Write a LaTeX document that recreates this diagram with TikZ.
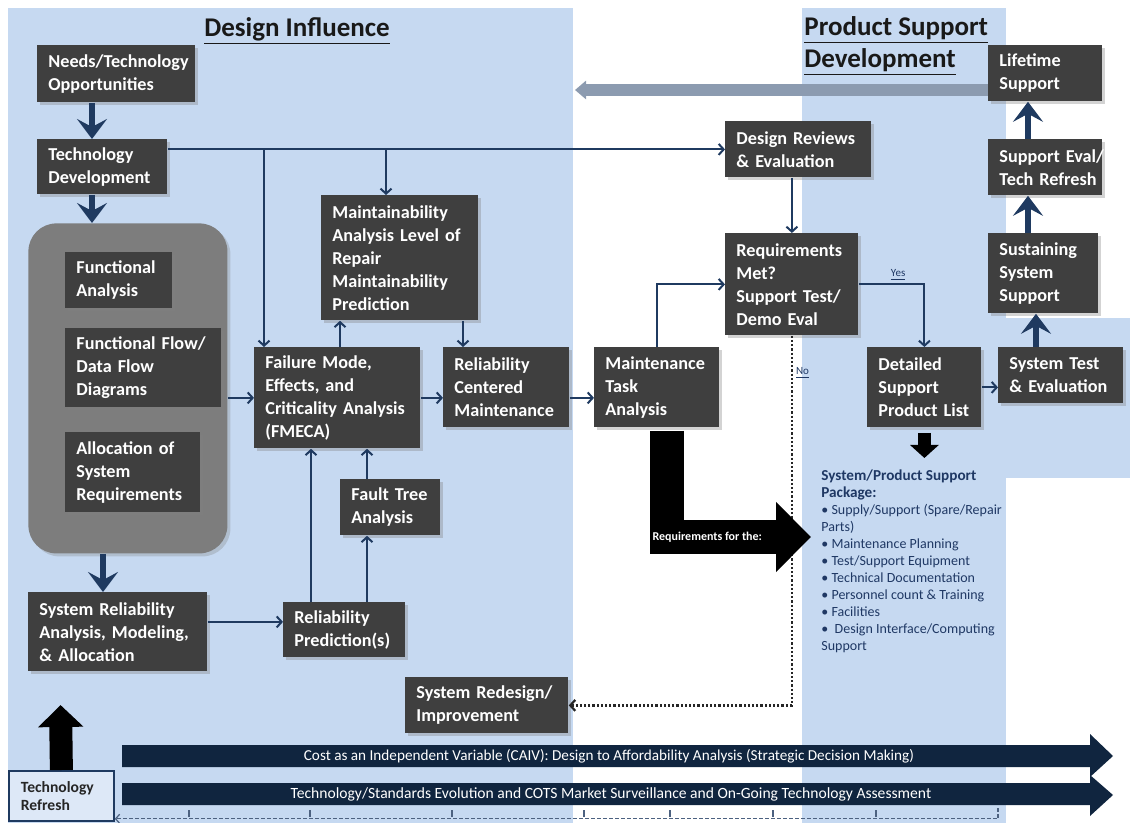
\documentclass[tikz,border=0pt]{standalone}
\usepackage{fontspec}
\setmainfont{Carlito}
\usetikzlibrary{arrows.meta,calc,shadows}

\definecolor{panelblue}{HTML}{C6D9F1}
\definecolor{boxgray}{HTML}{3F3F3F}
\definecolor{groupgray}{HTML}{7D7D7D}
\definecolor{linknavy}{HTML}{1F3A60}
\definecolor{barnavy}{HTML}{10253F}
\definecolor{backgray}{HTML}{8C9BB0}
\definecolor{pkgblue}{HTML}{1F3864}

\newcommand{\boxfont}{\bfseries\fontsize{9.1}{11.5}\selectfont}
\newcommand{\pkghead}[1]{\textbf{\fontsize{7.6}{9}\selectfont #1}}

\begin{document}
\begin{tikzpicture}[x=0.5pt,y=-0.5pt,
	blk/.style={fill=boxgray,text=white,font=\boxfont,align=left,anchor=north west,
		inner xsep=5.5pt,inner ysep=2pt,
		execute at begin node={\hyphenpenalty=10000\exhyphenpenalty=10000},
		drop shadow={shadow xshift=1.5pt,shadow yshift=-1.5pt,opacity=0.35}},
	link/.style={draw=linknavy,line width=1pt,-{Straight Barb[length=2.5pt,width=5.5pt]}},
	bigflow/.style={draw=linknavy,line width=3pt,-{Stealth[length=10pt,width=15pt,inset=4pt]}},
	noline/.style={draw=black!85,line width=1.1pt,densely dotted,-{Straight Barb[length=2.5pt,width=5.5pt]}},
	lbl/.style={text=pkgblue,font=\fontsize{5.5}{6}\selectfont,inner sep=1.5pt},
	barlabel/.style={text=white,font=\fontsize{7.6}{8}\selectfont},
	dashline/.style={draw=linknavy!80,line width=0.6pt,dash pattern=on 2pt off 1pt},
	title/.style={text=black!90,font=\bfseries\fontsize{13.5}{16}\selectfont}]

	% panels
	\useasboundingbox (0,0) rectangle (1130,823);
	\fill[panelblue] (8,8) rectangle (573,823);
	\fill[panelblue] (802,8) rectangle (1006,823);
	\fill[panelblue] (1006,318) rectangle (1130,478);

	\node[title] (ditl) at (297,31) {\underline{Design Influence}};
	\node[title,align=left,anchor=west,inner xsep=1pt] (pstl) at (802,46) {\underline{Product Support}\\\underline{Development}};

	% boxes
	\node[blk,text width=68pt,minimum height=28.5pt] (needs) at (37,45) {Needs/Technology\\Opportunities};
	\node[blk,text width=54pt,minimum height=27.5pt] (techdev) at (37,139) {Technology\\Development};
	\node[fill=groupgray,rounded corners=14pt,minimum width=99.5pt,minimum height=165pt,anchor=north west,
		drop shadow={shadow xshift=1.5pt,shadow yshift=-1.5pt,opacity=0.3}] (grp) at (28,223) {};
	\node[blk,text width=42.5pt,minimum height=28pt] (func) at (65,252) {Functional\\Analysis};
	\node[blk,text width=67pt,minimum height=39.5pt] (flow) at (65,328) {Functional~Flow/\\Data~Flow\\Diagrams};
	\node[blk,text width=56.5pt,minimum height=40pt] (alloc) at (65,432) {Allocation~of\\System\\Requirements};
	\node[blk,text width=78.5pt,minimum height=39.5pt] (sysrel) at (28,592) {System~Reliability\\Analysis,~Modeling,\\\&~Allocation};
	\node[blk,text width=50pt,minimum height=27.5pt] (relpred) at (283,602) {Reliability\\Prediction(s)};
	\node[blk,text width=72pt,minimum height=50.5pt] (fmeca) at (254,347) {Failure~Mode,\\Effects,~and\\Criticality~Analysis\\(FMECA)};
	\node[blk,text width=39pt,minimum height=28pt] (fta) at (340,479) {Fault~Tree\\Analysis};
	\node[blk,text width=67.5pt,minimum height=62.5pt] (maint) at (321,195) {Maintainability\\Analysis~Level~of\\Repair\\Maintainability\\Prediction};
	\node[blk,text width=52pt,minimum height=40pt] (rcm) at (443,347) {Reliability\\Centered\\Maintenance};
	\node[blk,text width=51.5pt,minimum height=40pt] (mta) at (594,347) {Maintenance\\Task\\Analysis};
	\node[blk,text width=70.5pt,minimum height=28pt] (redesign) at (405,677) {System~Redesign/\\Improvement};
	\node[blk,text width=62pt,minimum height=28pt] (reviews) at (725,121) {Design~Reviews\\\&~Evaluation};
	\node[blk,text width=55.5pt,minimum height=51pt] (reqmet) at (725,233) {Requirements\\Met?\\Support~Test/\\Demo~Eval};
	\node[blk,text width=46pt,minimum height=40pt] (detailed) at (867,347) {Detailed\\Support\\Product~List};
	\node[blk,text width=51.5pt,minimum height=28pt] (systest) at (998,347) {System~Test\\\&~Evaluation};
	\node[blk,text width=44pt,minimum height=40pt] (sustain) at (988,233) {Sustaining\\System\\Support};
	\node[blk,text width=46pt,minimum height=28pt] (supeval) at (988,139) {Support~Eval/\\Tech~Refresh};
	\node[blk,text width=46pt,minimum height=28pt] (lifetime) at (988,45) {Lifetime\\Support};

	\node[fill=panelblue!60!white,draw=linknavy,line width=0.9pt,text=black!85,
		font=\bfseries\fontsize{7.8}{9}\selectfont,align=left,anchor=north west,
		text width=40.5pt,inner xsep=6pt,minimum height=25pt] (refresh) at (8,770) {Technology\\Refresh};

	\node[anchor=north west,align=left,inner sep=1pt,text=pkgblue,font=\fontsize{7}{8.5}\selectfont] (pkg) at (819,467) {\pkghead{System/Product Support}\\\pkghead{Package:}\\\textbullet\ Supply/Support (Spare/Repair\\Parts)\\\textbullet\ Maintenance Planning\\\textbullet\ Test/Support Equipment\\\textbullet\ Technical Documentation\\\textbullet\ Personnel count \& Training\\\textbullet\ Facilities\\\textbullet\ \ Design Interface/Computing\\Support};

	% guide columns
	\coordinate (gx1) at (92,0);
	\coordinate (gx2) at (103,0);
	\coordinate (gx3) at (311,0);
	\coordinate (gx4) at (367,0);
	\coordinate (gx5) at (340,0);
	\coordinate (gx6) at (463,0);
	\coordinate (gx7) at (657,0);
	\coordinate (gx8) at (1036,0);
	\coordinate (gx9) at (1028,0);
	\coordinate (gx10) at (667,0);
	\coordinate (j1) at (264,149);
	\coordinate (j2) at (386,149);
	\coordinate (backtip) at (575,90);
	\coordinate (reqtip) at (811,537);
	\coordinate (uptip) at (60.5,705);
	\coordinate (dend) at (998,808);

	% lifetime feedback
	\draw[draw=backgray,line width=6pt,-{Triangle[length=5.5pt,width=9pt]}] (lifetime.west |- backtip) -- (backtip);

	% connectors
	\draw[bigflow] (needs.south -| gx1) -- (techdev.north -| gx1);
	\draw[bigflow] (techdev.south -| gx1) -- (grp.north -| gx1);
	\draw[bigflow] (grp.south -| gx2) -- (sysrel.north -| gx2);
	\draw[link] (techdev.east |- reviews.west) -- (reviews.west);
	\draw[link] (j1) -- (j1 |- fmeca.north);
	\draw[link] (j2) -- (j2 |- maint.north);
	\draw[link] (grp.east |- fmeca.west) -- (fmeca.west);
	\draw[link] (fmeca.east) -- (fmeca.east -| rcm.west);
	\draw[link] (rcm.east |- fmeca.east) -- (mta.west |- fmeca.east);
	\draw[link] (fmeca.north -| gx5) -- (maint.south -| gx5);
	\draw[link] (maint.south -| gx6) -- (rcm.north -| gx6);
	\draw[link] (relpred.north -| gx3) -- (fmeca.south -| gx3);
	\draw[link] (relpred.north -| gx4) -- (fta.south -| gx4);
	\draw[link] (fta.north -| gx4) -- (fmeca.south -| gx4);
	\draw[link] ($(sysrel.east)+(0,-10)$) -- ($(relpred.west)+(0,-8)$);
	\draw[link] (reviews.south -| reqmet.north) -- (reqmet.north);
	\draw[link] (mta.north -| gx7) |- (reqmet.west);
	\draw[link] (reqmet.east) -| node[pos=0.3,above,lbl] {\underline{Yes}} (detailed.north);
	\draw[noline] (reqmet.south) |- node[pos=0.05,right,lbl] {\underline{No}} (redesign.east);
	\draw[link] (detailed.east) -- (detailed.east -| systest.west);
	\draw[bigflow] (systest.north -| gx8) -- (sustain.south -| gx8);
	\draw[bigflow] (sustain.north -| gx9) -- (supeval.south -| gx9);
	\draw[bigflow] (supeval.north -| gx9) -- (lifetime.south -| gx9);

	% block arrows
	\draw[black,line width=17pt,line join=miter,shorten <=1.5pt,-{Triangle[length=17.5pt,width=34pt]}]
		(mta.south -| gx10) |- node[pos=0.64,text=white,font=\bfseries\fontsize{6}{6.5}\selectfont] {Requirements for the:} (reqtip);
	\draw[black,line width=6.5pt,shorten <=2.5pt,shorten >=4.5pt,-{Triangle[length=6.5pt,width=14pt]}]
		(detailed.south) -- (detailed.south |- pkg.north);
	\draw[black,line width=11.5pt,-{Triangle[length=11pt,width=22pt]}] (refresh.north) -- (uptip);

	% bottom bars
	\fill[barnavy] (122,783) -- (1090,783) -- (1090,775) -- (1113,795) -- (1090,816) -- (1090,805) -- (122,805) -- cycle;
	\fill[barnavy] (122,745) -- (1090,745) -- (1090,734) -- (1113,756) -- (1090,777) -- (1090,767) -- (122,767) -- cycle;
	\node[barlabel] (caiv) at (609,756) {Cost as an Independent Variable (CAIV): Design to Affordability Analysis (Strategic Decision Making)};
	\node[barlabel,font=\fontsize{7.8}{8}\selectfont] (cots) at (611,794) {Technology/Standards Evolution and COTS Market Surveillance and On-Going Technology Assessment};

	\draw[dashline,-{Straight Barb[length=2pt,width=4.5pt]}] (dend) |- ($(refresh.south east)+(0,-3)$);
	\foreach \tx in {189,310,452,584,670,773,876}
		\draw[linknavy!80,line width=0.6pt] (\tx,817) -- ++(0,-7);

\end{tikzpicture}
\end{document}
